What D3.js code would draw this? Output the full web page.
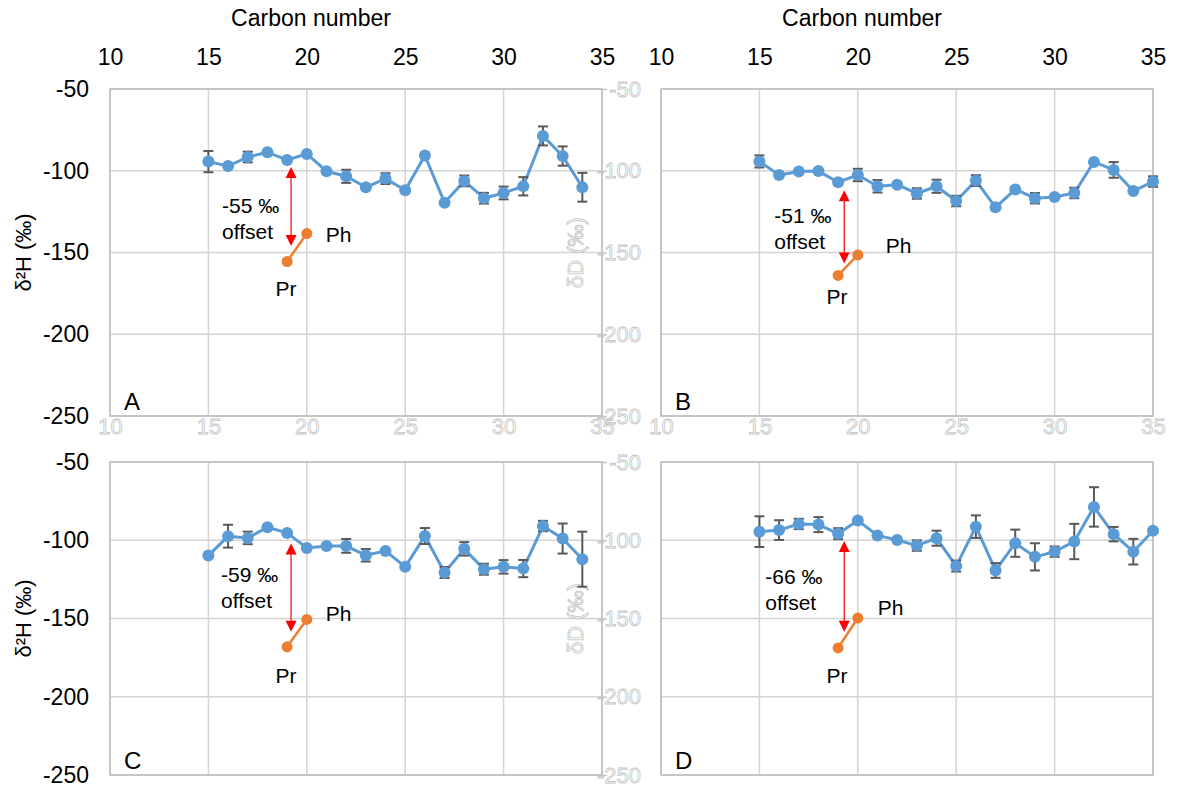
<!DOCTYPE html>
<html>
<head>
<meta charset="utf-8">
<script src="https://cdn.jsdelivr.net/npm/d3@7"></script>
<style>
  body { margin: 0; background: #fff; }
  text { font-family: "Liberation Sans", Arial, sans-serif; }
</style>
</head>
<body>
<svg id="chart" width="1178" height="792"></svg>
<script>
// ---------- data ----------
var xTicks = [10, 15, 20, 25, 30, 35];
var yTicks = [-50, -100, -150, -200, -250];
var ghostYLabels = ["-50", "-100", "-150", "-200", "-250"];

var carbonA = [15,16,17,18,19,20,21,22,23,24,25,26,27,28,29,30,31,32,33,34];
var dDA  = [-94.4,-97.1,-91.6,-88.7,-93.4,-89.7,-100.3,-103.4,-110.1,-104.8,-111.9,-90.7,-119.5,-106.2,-116.8,-113.6,-109.5,-78.7,-91.0,-110.1];
var errA = [6.5,0,3.3,0,0,0,0,4.0,0,3.3,0,0,0,3.3,3.3,3.9,5.6,5.8,5.9,8.8];

var carbonB = [15,16,17,18,19,20,21,22,23,24,25,26,27,28,29,30,31,32,33,34,35];
var dDB  = [-94.3,-102.6,-100.5,-100.2,-107.0,-102.6,-109.5,-108.5,-113.9,-109.5,-118.5,-106.0,-122.4,-111.4,-116.8,-116.1,-113.6,-94.6,-99.5,-112.4,-106.6];
var errB = [3.7,0,0,0,0,3.8,3.8,0,3.2,4.0,3.2,3.3,0,0,3.2,0,3.2,0,4.8,0,3.2];

var carbonC = [15,16,17,18,19,20,21,22,23,24,25,26,27,28,29,30,31,32,33,34];
var dDC  = [-109.8,-97.4,-98.5,-91.7,-95.3,-104.9,-103.6,-103.6,-109.6,-106.8,-117.0,-97.3,-120.6,-105.5,-118.5,-117.0,-118.1,-90.9,-98.9,-112.1];
var errC = [0,7.3,4.0,0,0,0,0,4.4,4.0,0,0,5.1,3.5,4.3,3.5,4.3,5.5,3.3,9.6,17.6];

var carbonD = [15,16,17,18,19,20,21,22,23,24,25,26,27,28,29,30,31,32,33,34,35];
var dDD  = [-94.5,-93.5,-89.6,-90.0,-95.8,-87.4,-96.9,-99.8,-103.4,-98.7,-116.5,-91.3,-119.3,-101.9,-110.6,-107.3,-100.8,-78.7,-96.1,-107.3,-93.9];
var errD = [9.8,6.3,3.3,4.8,3.5,0,0,0,3.3,4.8,3.5,7.2,4.7,8.7,8.7,3.3,11.3,12.6,4.6,8.2,0];

// isoprenoids: pristane (C19) and phytane (C20)
var isoCarbon = [19, 20];
var isoNames = ["Pr", "Ph"];
var isoA = [-155.5, -138.4];
var isoB = [-164.0, -151.5];
var isoC = [-168.1, -150.6];
var isoD = [-168.8, -149.7];

// offset arrows: carbon position, from value, to value
var arrowX    = [19.2, 19.31, 19.2, 19.31];
var arrowFrom = [-97.7, -112.0, -102.1, -100.4];
var arrowTo   = [-146.0, -156.7, -158.5, -158.4];
var offsetLabels = ["-55 \u2030", "-51 \u2030", "-59 \u2030", "-66 \u2030"];
var panelLetters = ["A", "B", "C", "D"];

// ---------- layout ----------
var blue = "#5b9bd5", orange = "#ed7d31", errCol = "#595959";
var gridCol = "#d4d4d4", frameCol = "#bdbdbd", ghostCol = "#c4c4c4";
var plain = function(d) { return String(d); };   // keep hyphen minus like the original

var panels = [
  {carbon: carbonA, dD: dDA, err: errA, iso: isoA, left: 110, right: 602, top: 89, bottom: 416,
   topAxis: true, leftAxis: true, ghostRight: true, ghostBottom: true,
   textDx: -69, textY: 213, prDy: 35, phDx: 19, phDy: 8},
  {carbon: carbonB, dD: dDB, err: errB, iso: isoB, left: 661, right: 1153, top: 89, bottom: 416,
   topAxis: true, leftAxis: false, ghostRight: false, ghostBottom: true,
   textDx: -70, textY: 223, prDy: 29, phDx: 28, phDy: -2},
  {carbon: carbonC, dD: dDC, err: errC, iso: isoC, left: 110, right: 602, top: 462, bottom: 775,
   topAxis: false, leftAxis: true, ghostRight: true, ghostBottom: false,
   textDx: -70, textY: 582, prDy: 36, phDx: 19, phDy: 2},
  {carbon: carbonD, dD: dDD, err: errD, iso: isoD, left: 661, right: 1153, top: 462, bottom: 775,
   topAxis: false, leftAxis: false, ghostRight: false, ghostBottom: false,
   textDx: -79, textY: 584, prDy: 35, phDx: 20, phDy: -3}
];

var svg = d3.select("#chart");

panels.forEach(function(p, i) { drawPanel(p, i); });

function drawPanel(p, i) {
  var x = d3.scaleLinear().domain([10, 35]).range([p.left, p.right]);
  var y = d3.scaleLinear().domain([-250, -50]).range([p.bottom, p.top]);
  var g = svg.append("g");

  // gridlines
  g.selectAll(".vgrid").data(xTicks).join("line")
    .attr("x1", function(d) { return x(d); }).attr("x2", function(d) { return x(d); })
    .attr("y1", p.top).attr("y2", p.bottom)
    .attr("stroke", gridCol).attr("stroke-width", 1.5);
  g.selectAll(".hgrid").data(yTicks).join("line")
    .attr("x1", p.left).attr("x2", p.right)
    .attr("y1", function(d) { return y(d); }).attr("y2", function(d) { return y(d); })
    .attr("stroke", gridCol).attr("stroke-width", 1.5);
  g.append("rect")
    .attr("x", p.left).attr("y", p.top)
    .attr("width", p.right - p.left).attr("height", p.bottom - p.top)
    .attr("fill", "none").attr("stroke", frameCol).attr("stroke-width", 1.5);

  // top axis (carbon number)
  if (p.topAxis) {
    var ax = g.append("g").attr("transform", "translate(0," + p.top + ")")
      .call(d3.axisTop(x).tickValues(xTicks).tickSize(0).tickPadding(24).tickFormat(plain));
    ax.select(".domain").remove();
    ax.selectAll("text").attr("font-size", 23).attr("fill", "#000")
      .style("font-family", "Liberation Sans, Arial, sans-serif");
    g.append("text")
      .attr("x", (p.left + p.right) / 2 - 45).attr("y", 26)
      .attr("text-anchor", "middle").attr("font-size", 23)
      .text("Carbon number");
  }

  // left axis
  if (p.leftAxis) {
    var ay = g.append("g").attr("transform", "translate(" + p.left + ",0)")
      .call(d3.axisLeft(y).tickValues(yTicks).tickSize(0).tickPadding(21).tickFormat(plain));
    ay.select(".domain").remove();
    ay.selectAll("text").attr("font-size", 23).attr("fill", "#000")
      .style("font-family", "Liberation Sans, Arial, sans-serif");
    g.append("text")
      .attr("transform", "translate(31," + ((p.top + p.bottom) / 2) + ") rotate(-90)")
      .attr("text-anchor", "middle").attr("font-size", 22)
      .text("\u03b4\u00b2H (\u2030)");
  }

  // faint secondary axes
  if (p.ghostRight) {
    var gr = g.append("g").attr("transform", "translate(" + p.right + ",0)")
      .call(d3.axisRight(y).tickValues(yTicks).tickSize(5).tickPadding(4)
        .tickFormat(function(d, k) { return ghostYLabels[k]; }));
    gr.select(".domain").remove();
    gr.selectAll("line").attr("stroke", ghostCol).attr("stroke-width", 1.5);
    gr.selectAll("text").attr("font-size", 22).attr("text-anchor", "end").attr("x", 39)
      .attr("fill", "none").attr("stroke", ghostCol).attr("stroke-width", 0.8)
      .style("font-family", "Liberation Sans, Arial, sans-serif");
    g.append("text")
      .attr("transform", "translate(583," + ((p.top + p.bottom) / 2) + ") rotate(-90)")
      .attr("text-anchor", "middle").attr("font-size", 22)
      .attr("fill", "none").attr("stroke", ghostCol).attr("stroke-width", 0.8)
      .text("\u03b4D (\u2030)");
  }
  if (p.ghostBottom) {
    var gb = g.append("g").attr("transform", "translate(0," + p.bottom + ")")
      .call(d3.axisBottom(x).tickValues(xTicks).tickSize(0).tickPadding(2).tickFormat(plain));
    gb.select(".domain").remove();
    gb.selectAll("text").attr("font-size", 22)
      .attr("fill", "none").attr("stroke", ghostCol).attr("stroke-width", 0.8)
      .style("font-family", "Liberation Sans, Arial, sans-serif");
  }

  // n-alkane series
  var pts = p.carbon.map(function(c, k) { return {c: c, v: p.dD[k], e: p.err[k]}; });
  var line = d3.line().x(function(d) { return x(d.c); }).y(function(d) { return y(d.v); });

  g.append("path").datum(pts)
    .attr("d", line).attr("fill", "none")
    .attr("stroke", blue).attr("stroke-width", 3).attr("stroke-linejoin", "round");

  var eb = g.selectAll(".err").data(pts.filter(function(d) { return d.e > 0; })).join("g");
  eb.append("line")
    .attr("x1", function(d) { return x(d.c); }).attr("x2", function(d) { return x(d.c); })
    .attr("y1", function(d) { return y(d.v - d.e); }).attr("y2", function(d) { return y(d.v + d.e); })
    .attr("stroke", errCol).attr("stroke-width", 2);
  [-1, 1].forEach(function(s) {
    eb.append("line")
      .attr("x1", function(d) { return x(d.c) - 5; }).attr("x2", function(d) { return x(d.c) + 5; })
      .attr("y1", function(d) { return y(d.v + s * d.e); }).attr("y2", function(d) { return y(d.v + s * d.e); })
      .attr("stroke", errCol).attr("stroke-width", 2);
  });

  g.selectAll(".dot").data(pts).join("circle")
    .attr("cx", function(d) { return x(d.c); }).attr("cy", function(d) { return y(d.v); })
    .attr("r", 6).attr("fill", blue);

  // Pr / Ph
  var iso = isoCarbon.map(function(c, k) { return {c: c, v: p.iso[k], name: isoNames[k]}; });
  g.append("path").datum(iso)
    .attr("d", line).attr("fill", "none").attr("stroke", orange).attr("stroke-width", 2.5);
  g.selectAll(".iso").data(iso).join("circle")
    .attr("cx", function(d) { return x(d.c); }).attr("cy", function(d) { return y(d.v); })
    .attr("r", 5.5).attr("fill", orange);
  g.append("text")
    .attr("x", x(iso[0].c) - 1).attr("y", y(iso[0].v) + p.prDy)
    .attr("text-anchor", "middle").attr("font-size", 21).text(iso[0].name);
  g.append("text")
    .attr("x", x(iso[1].c) + p.phDx).attr("y", y(iso[1].v) + p.phDy)
    .attr("font-size", 21).text(iso[1].name);

  // offset arrow
  var ax0 = x(arrowX[i]), y0 = y(arrowFrom[i]), y1 = y(arrowTo[i]);
  g.append("line")
    .attr("x1", ax0).attr("x2", ax0).attr("y1", y0 + 8).attr("y2", y1 - 8)
    .attr("stroke", "#ff0000").attr("stroke-width", 1.2);
  g.append("path")
    .attr("d", "M" + ax0 + "," + y0 + "L" + (ax0 + 5.5) + "," + (y0 + 11) + "L" + (ax0 - 5.5) + "," + (y0 + 11) + "Z")
    .attr("fill", "#ff0000");
  g.append("path")
    .attr("d", "M" + ax0 + "," + y1 + "L" + (ax0 + 5.5) + "," + (y1 - 11) + "L" + (ax0 - 5.5) + "," + (y1 - 11) + "Z")
    .attr("fill", "#ff0000");

  var t = g.append("text").attr("font-size", 21);
  t.append("tspan").attr("x", ax0 + p.textDx).attr("y", p.textY).text(offsetLabels[i]);
  t.append("tspan").attr("x", ax0 + p.textDx).attr("dy", 26).text("offset");

  // panel letter
  g.append("text")
    .attr("x", p.left + 14).attr("y", p.bottom - 6)
    .attr("font-size", 24).text(panelLetters[i]);
}
</script>
</body>
</html>
